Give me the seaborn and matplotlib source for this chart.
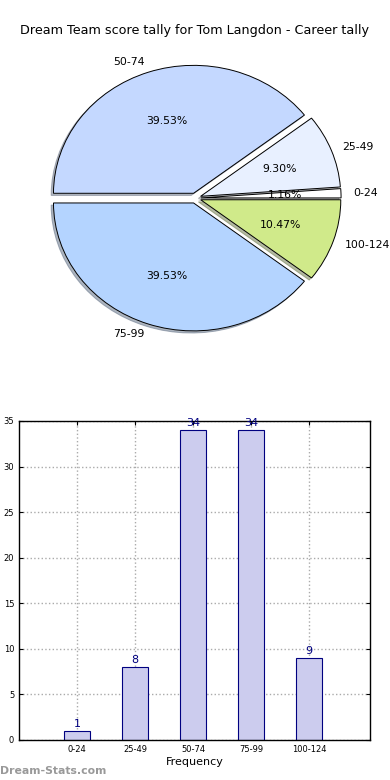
import matplotlib
matplotlib.use("Agg")
import matplotlib.pyplot as plt
import seaborn as sns
import pandas as pd

sns.set_style("white")
plt.rcParams['font.family'] = ['DejaVu Sans']
plt.rcParams['text.color'] = 'black'
plt.rcParams['axes.labelcolor'] = 'black'
plt.rcParams['xtick.color'] = 'black'
plt.rcParams['ytick.color'] = 'black'

categories = ["0-24", "25-49", "50-74", "75-99", "100-124"]
counts = [1, 8, 34, 34, 9]
pie_colors = ["#ffffff", "#e8f0ff", "#c4d8ff", "#b4d4ff", "#d0ea8a"]
title = "Dream Team score tally for Tom Langdon - Career tally"

fig = plt.figure(figsize=(3.9, 7.8), dpi=100)

# Pie chart
ax1 = fig.add_axes([0.052, 0.541, 0.898, 0.41])
ax1.pie(counts, labels=categories, colors=pie_colors, autopct="%.2f%%",
        explode=[0.04] * len(counts),
        shadow={"ox": -0.012, "oy": -0.012, "shade": 0.5},
        startangle=0, labeldistance=1.085,
        wedgeprops=dict(edgecolor="black", linewidth=0.7),
        textprops=dict(fontsize=7.8, color="black"))
ax1.set_aspect("auto")
ax1.set_xlim(-1.25, 1.25)
ax1.set_ylim(-1.25, 1.25)
ax1.axis("off")
fig.text(0.5, 0.961, title, ha="center", va="center", fontsize=9.2, color="black")

# Bar chart
ax2 = fig.add_axes([0.0487, 0.0513, 0.9, 0.409])
df = pd.DataFrame({"cat": categories, "count": counts})
sns.barplot(data=df, x="cat", y="count", ax=ax2, color="#ccccee",
            saturation=1, width=0.45, edgecolor="#000080", linewidth=0.8)
for i, v in enumerate(counts):
    ax2.text(i, v + 0.25, str(v), ha="center", va="bottom", color="#000080", fontsize=8)
ax2.set_xlim(-1, 5.05)
ax2.set_ylim(0, 35)
ax2.set_yticks(range(0, 36, 5))
ax2.tick_params(axis="both", labelsize=6, direction="in", length=3, top=True, right=True,
                bottom=True, left=True)
ax2.grid(True, linestyle=":", color="#aaaaaa", linewidth=1)
for s in ax2.spines.values():
    s.set_visible(True)
    s.set_color("black")
    s.set_linewidth(1)
ax2.set_xlabel("Frequency", fontsize=8, labelpad=2)
ax2.set_ylabel("Score Interval Tally", fontsize=8, labelpad=8)

fig.text(0.0, 0.005, "Dream-Stats.com", fontsize=7.8, color="#999999",
         fontweight="bold", ha="left", va="bottom")

fig.savefig("out.png", dpi=100)
